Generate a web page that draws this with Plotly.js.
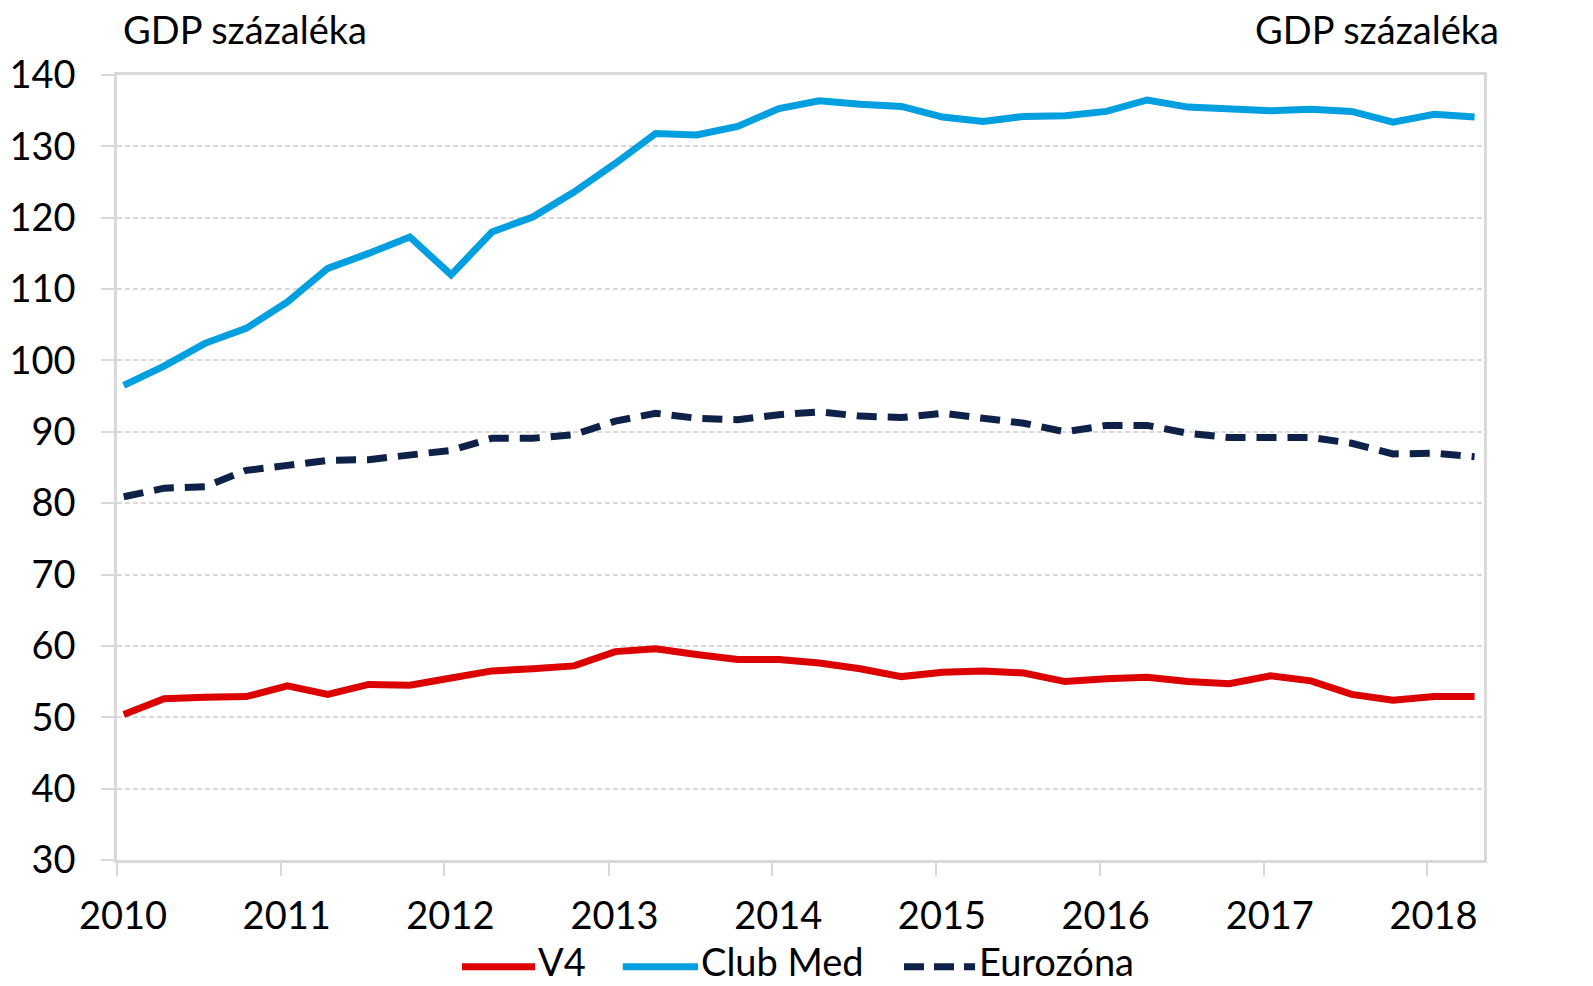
<!DOCTYPE html>
<html>
<head>
<meta charset="utf-8">
<script src="https://cdn.plot.ly/plotly-3.0.1.min.js"></script>
<style>
  html, body { margin: 0; padding: 0; background: #ffffff; }
  #chart { width: 1593px; height: 986px; }
</style>
</head>
<body>
<div id="chart"></div>
<script>
// Quarterly observations, 2010 Q1 – 2018 Q2
const quarters = [
  "2010-01-16","2010-04-16","2010-07-16","2010-10-16",
  "2011-01-16","2011-04-16","2011-07-16","2011-10-16",
  "2012-01-16","2012-04-16","2012-07-16","2012-10-16",
  "2013-01-16","2013-04-16","2013-07-16","2013-10-16",
  "2014-01-16","2014-04-16","2014-07-16","2014-10-16",
  "2015-01-16","2015-04-16","2015-07-16","2015-10-16",
  "2016-01-16","2016-04-16","2016-07-16","2016-10-16",
  "2017-01-16","2017-04-16","2017-07-16","2017-10-16",
  "2018-01-16","2018-04-16"
];

const v4 = [
  50.4, 52.6, 52.8, 52.9, 54.4, 53.2, 54.6, 54.5,
  55.5, 56.5, 56.8, 57.2, 59.2, 59.6, 58.8, 58.1,
  58.1, 57.6, 56.8, 55.7, 56.3, 56.5, 56.2, 55.0,
  55.4, 55.6, 55.0, 54.7, 55.8, 55.1, 53.2, 52.4,
  52.9, 52.9
];

const clubMed = [
  96.5, 99.2, 102.4, 104.5, 108.2, 112.9, 115.0, 117.3,
  112.0, 118.0, 120.1, 123.6, 127.6, 131.8, 131.6, 132.8,
  135.3, 136.4, 135.9, 135.6, 134.1, 133.5, 134.2, 134.3,
  134.9, 136.5, 135.5, 135.2, 135.0, 135.2, 134.9, 133.4,
  134.5, 134.1
];

const eurozona = [
  80.9, 82.1, 82.3, 84.6, 85.3, 86.0, 86.1, 86.7,
  87.4, 89.1, 89.1, 89.6, 91.5, 92.6, 91.9, 91.7,
  92.4, 92.8, 92.2, 92.0, 92.6, 91.9, 91.2, 90.0,
  90.9, 90.9, 89.8, 89.2, 89.3, 89.2, 88.4, 86.9,
  87.0, 86.5
];

const seriesNames = ["V4", "Club Med", "Eurozóna"];
const seriesColors = ["#dc0000", "#009fe0", "#0d2149"];
const axisTitle = "GDP százaléka";
const yTicks = [30, 40, 50, 60, 70, 80, 90, 100, 110, 120, 130, 140];

const FONT = "Lato, 'Open Sans', sans-serif";
const FS = 38;
const GRID = "#d9d9d9";

const traces = [
  { x: quarters, y: v4, name: seriesNames[0], type: "scatter", mode: "lines",
    line: { color: seriesColors[0], width: 7 }, showlegend: false },
  { x: quarters, y: clubMed, name: seriesNames[1], type: "scatter", mode: "lines",
    line: { color: seriesColors[1], width: 7 }, showlegend: false },
  { x: quarters, y: eurozona, name: seriesNames[2], type: "scatter", mode: "lines",
    line: { color: seriesColors[2], width: 7, dash: "20px,11px" }, showlegend: false }
];

// custom legend (long line samples like the original)
const legendItems = [
  { x0: 0.2524, x1: 0.3058, tx: 0.3070, dash: "solid" },
  { x0: 0.3700, x1: 0.4250, tx: 0.4265, dash: "solid" },
  { x0: 0.5757, x1: 0.6277, tx: 0.6295, dash: "20px,10px" }
];
const legY = -0.136;
const shapes = [];
const annotations = [];
legendItems.forEach((it, k) => {
  shapes.push({ type: "line", xref: "paper", yref: "paper",
    x0: it.x0, x1: it.x1, y0: legY, y1: legY,
    line: { color: seriesColors[k], width: 7, dash: it.dash } });
  annotations.push({ xref: "paper", yref: "paper", x: it.tx, y: -0.1595,
    xanchor: "left", yanchor: "bottom", showarrow: false, borderpad: 0,
    text: seriesNames[k], font: { family: FONT, size: FS, color: "#000" } });
});
annotations.push({ xref: "paper", yref: "paper", x: 0.003, y: 1.058,
  xanchor: "left", yanchor: "middle", showarrow: false,
  text: axisTitle, font: { family: FONT, size: FS, color: "#000" } });
annotations.push({ xref: "paper", yref: "paper", x: 1.0127, y: 1.058,
  xanchor: "right", yanchor: "middle", showarrow: false,
  text: axisTitle, font: { family: FONT, size: FS, color: "#000" } });

const layout = {
  width: 1593, height: 986,
  margin: { l: 117, r: 109, t: 75, b: 126, pad: 0 },
  paper_bgcolor: "#ffffff", plot_bgcolor: "#ffffff",
  font: { family: FONT, size: FS, color: "#000" },
  showlegend: false,
  xaxis: {
    type: "date",
    range: ["2010-01-01", "2018-05-07"],
    tick0: "2010-01-01", dtick: "M12", tickformat: "%Y",
    ticks: "outside", ticklen: 13, tickwidth: 2, tickcolor: GRID,
    showline: true, linecolor: GRID, linewidth: 2.5, mirror: true,
    showgrid: false, zeroline: false,
    ticklabelstandoff: 8, ticklabelshift: 6,
    tickfont: { family: FONT, size: FS, color: "#000" }
  },
  yaxis: {
    range: [30, 140], tickvals: yTicks, ticktext: yTicks.map(String),
    ticks: "outside", ticklen: 13, tickwidth: 2, tickcolor: GRID,
    showline: true, linecolor: GRID, linewidth: 2.5, mirror: true,
    showgrid: true, gridcolor: GRID, gridwidth: 1.6, griddash: "5px,3px",
    zeroline: false, ticklabelstandoff: 18,
    tickfont: { family: FONT, size: FS, color: "#000" }
  },
  yaxis2: {
    overlaying: "y", side: "right", range: [30, 140],
    tickvals: yTicks, ticktext: yTicks.map(String),
    ticks: "", showline: false, showgrid: false, zeroline: false,
    ticklabelstandoff: 40,
    tickfont: { family: FONT, size: FS, color: "#000" }
  },
  shapes: shapes,
  annotations: annotations
};

Plotly.newPlot("chart", traces, layout, { displayModeBar: false, responsive: false });
</script>
</body>
</html>
